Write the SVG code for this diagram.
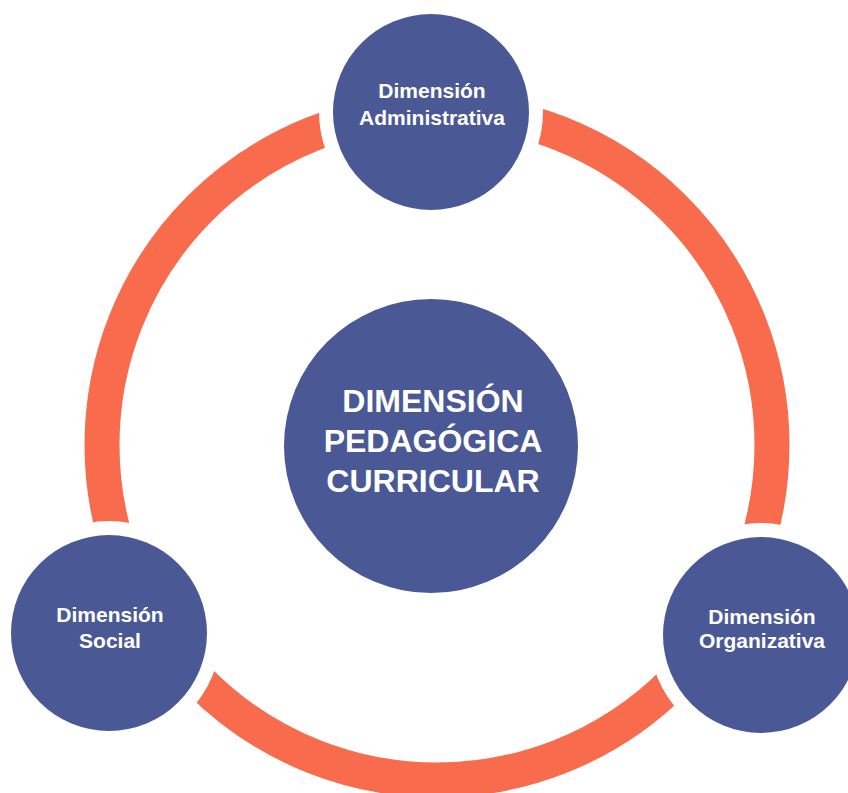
<svg xmlns="http://www.w3.org/2000/svg" width="848" height="793" viewBox="0 0 848 793">
<style>
.node{fill:#4a5995}
.halo{fill:#ffffff}
.ring{fill:none;stroke:#f86b4d;stroke-width:35}
.lbl{font-family:"Liberation Sans",Arial,sans-serif;font-weight:bold;font-size:21px;fill:#ffffff;text-anchor:middle}
.big{font-family:"Liberation Sans",Arial,sans-serif;font-weight:bold;font-size:32px;fill:#ffffff;text-anchor:middle}
</style>
<rect width="848" height="793" fill="#ffffff"/>
<g id="connectors">
<circle class="ring" cx="437" cy="445" r="335"/>
</g>
<g id="node-administrativa">
<circle class="halo" cx="431" cy="112" r="112"/>
<circle class="node" cx="431" cy="112" r="98"/>
<text class="lbl" x="432" y="98">Dimensión</text>
<text class="lbl" x="432" y="125">Administrativa</text>
</g>
<g id="node-social">
<circle class="halo" cx="109" cy="633" r="112"/>
<circle class="node" cx="109" cy="633" r="98"/>
<text class="lbl" x="110" y="622">Dimensión</text>
<text class="lbl" x="110" y="648">Social</text>
</g>
<g id="node-organizativa">
<circle class="halo" cx="761" cy="635" r="112"/>
<circle class="node" cx="761" cy="635" r="98"/>
<text class="lbl" x="762" y="624">Dimensión</text>
<text class="lbl" x="762" y="648">Organizativa</text>
</g>
<g id="node-pedagogica">
<circle class="node" cx="431" cy="446" r="147"/>
<text class="big" x="433" y="412">DIMENSIÓN</text>
<text class="big" x="433" y="452">PEDAGÓGICA</text>
<text class="big" x="433" y="492">CURRICULAR</text>
</g>
</svg>
